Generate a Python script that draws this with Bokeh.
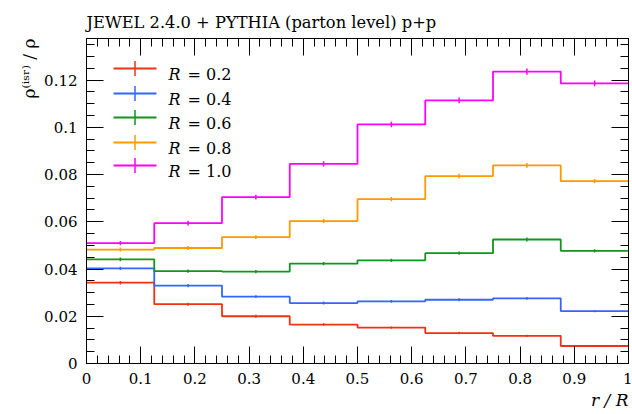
from bokeh.plotting import figure
from bokeh.models import (LinearAxis, SingleIntervalTicker, CustomJSTickFormatter,
                          Label, PolyAnnotation, Range1d, Title)
from bokeh.embed import file_html
from bokeh.resources import INLINE

# ---- data ----
bin_edges = [0.0, 0.125, 0.25, 0.375, 0.5, 0.625, 0.75, 0.875, 1.0]
r02 = [0.0342, 0.0251, 0.0200, 0.0165, 0.0152, 0.0129, 0.0117, 0.0074]
r04 = [0.0403, 0.0330, 0.0283, 0.0256, 0.0263, 0.0270, 0.0276, 0.0222]
r06 = [0.0441, 0.0391, 0.0389, 0.0423, 0.0437, 0.0467, 0.0525, 0.0477]
r08 = [0.0482, 0.0489, 0.0535, 0.0603, 0.0696, 0.0793, 0.0839, 0.0772]
r10 = [0.0510, 0.0594, 0.0704, 0.0845, 0.1012, 0.1114, 0.1236, 0.1186]
e02 = [0.0007, 0.0006, 0.0006, 0.0005, 0.0005, 0.0005, 0.0005, 0.0004]
e04 = [0.0007, 0.0007, 0.0006, 0.0006, 0.0006, 0.0006, 0.0006, 0.0005]
e06 = [0.0008, 0.0007, 0.0007, 0.0007, 0.0007, 0.0007, 0.0008, 0.0007]
e08 = [0.0008, 0.0008, 0.0008, 0.0009, 0.0009, 0.0010, 0.0010, 0.0009]
e10 = [0.0009, 0.0010, 0.0010, 0.0011, 0.0012, 0.0012, 0.0013, 0.0012]
series_labels = ["0.2", "0.4", "0.6", "0.8", "1.0"]
series_values = [r02, r04, r06, r08, r10]
series_errors = [e02, e04, e06, e08, e10]
colors = ["#EE3311", "#3366FF", "#109618", "#FF9900", "#FF00FF"]

title_text = "JEWEL 2.4.0 + PYTHIA (parton level) p+p"
ylabel_text = "\u03c1\u207d\u2071\u02e2\u02b3\u207e / \u03c1"
xlabel_text = "r / R"

FONT = "DejaVu Serif"

W, H = 632, 414
BL, BR, BT, BB = 86, 4, 38, 51
FW = W - BL - BR
FH = H - BT - BB

p = figure(width=W, height=H, x_range=Range1d(0, 1), y_range=Range1d(0, 0.1376),
           output_backend="svg", toolbar_location=None,
           min_border_left=BL, min_border_right=BR, min_border_top=BT, min_border_bottom=BB)
p.xgrid.visible = False
p.ygrid.visible = False
p.outline_line_color = "black"
p.background_fill_color = "white"
p.border_fill_color = "white"

p.title.text = title_text
p.title.align = "left"
p.title.text_font = FONT
p.title.text_font_size = "16.3px"
p.title.text_font_style = "normal"
p.title.text_color = "black"
p.title.standoff = 13

fmt = CustomJSTickFormatter(code="return Number(tick.toFixed(4)).toString();")
blank = CustomJSTickFormatter(code="return '';")

def style(ax, labels=True):
    ax.major_tick_in = 17
    ax.major_tick_out = 0
    ax.minor_tick_in = 8
    ax.minor_tick_out = 0
    ax.axis_line_color = "black"
    ax.major_tick_line_color = "black"
    ax.minor_tick_line_color = "black"
    ax.major_label_text_font = FONT
    ax.major_label_text_font_size = "15px"
    ax.major_label_text_color = "black"
    ax.major_label_standoff = 9 if labels else 0

xt = SingleIntervalTicker(interval=0.1, num_minor_ticks=5)
yt = SingleIntervalTicker(interval=0.02, num_minor_ticks=4)

p.xaxis.ticker = xt
p.xaxis.formatter = fmt
style(p.xaxis[0])
p.yaxis.ticker = yt
p.yaxis.formatter = fmt
style(p.yaxis[0])

top = LinearAxis(ticker=xt, formatter=blank)
style(top, labels=False)
p.add_layout(top, "above")
right = LinearAxis(ticker=yt, formatter=blank)
style(right, labels=False)
p.add_layout(right, "right")

# axis titles
p.add_layout(Title(text=ylabel_text, align="right", text_font=FONT, text_font_size="17px",
                   text_font_style="normal", text_color="black", standoff=5), "left")
p.add_layout(Title(text=xlabel_text, align="right", text_font=FONT, text_font_size="17px",
                   text_font_style="italic", text_color="black", standoff=2), "below")

centers = [(bin_edges[i] + bin_edges[i + 1]) / 2 for i in range(len(bin_edges) - 1)]

for vals, errs, c in zip(series_values, series_errors, colors):
    p.step(x=bin_edges, y=vals + [vals[-1]], mode="after", line_color=c, line_width=1.8)
    p.segment(x0=centers, y0=[v - e for v, e in zip(vals, errs)],
              x1=centers, y1=[v + e for v, e in zip(vals, errs)],
              line_color=c, line_width=1.5)

# legend
row_off = [30, 55, 79, 104, 127]
for lab, c, off in zip(series_labels, colors, row_off):
    ry = FH - off
    p.add_layout(PolyAnnotation(xs=[27, 70], ys=[ry, ry], xs_units="screen", ys_units="screen",
                                line_color=c, line_alpha=1.0, line_width=1.8, fill_alpha=0))
    p.add_layout(PolyAnnotation(xs=[48.5, 48.5], ys=[ry - 7.5, ry + 7.5], xs_units="screen",
                                ys_units="screen", line_color=c, line_alpha=1.0,
                                line_width=1.5, fill_alpha=0))
    p.add_layout(Label(x=82, y=ry - 6, x_units="screen", y_units="screen", text="R",
                       text_font=FONT, text_font_style="italic", text_font_size="16px",
                       text_align="left", text_baseline="alphabetic", text_color="black"))
    p.add_layout(Label(x=101, y=ry - 6, x_units="screen", y_units="screen", text="= " + lab,
                       text_font=FONT, text_font_size="16px",
                       text_align="left", text_baseline="alphabetic", text_color="black"))

open("out.html", "w").write(file_html(p, INLINE))
